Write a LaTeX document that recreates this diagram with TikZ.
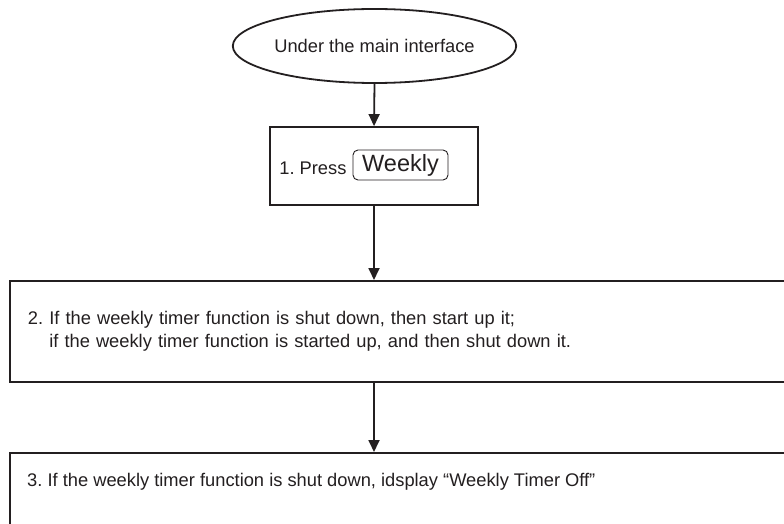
\documentclass[tikz,border=0pt]{standalone}
\usepackage{fontspec}
\setmainfont{Liberation Sans}
\usetikzlibrary{shapes.geometric,arrows.meta,calc}
\definecolor{ink}{HTML}{231F20}
\begin{document}
\begin{tikzpicture}[x=1pt,y=-1pt,
  every node/.style={text=ink,font=\fontsize{18.3}{22.5}\selectfont\frenchspacing},
  startbox/.style={ellipse,draw=ink,line width=1.8pt,minimum width=277pt,minimum height=74pt,inner sep=0pt},
  stepbox/.style={rectangle,draw=ink,line width=1.8pt,inner sep=0pt},
  keybox/.style={rectangle,rounded corners=5pt,draw=ink,line width=0.9pt,minimum width=95pt,minimum height=30pt,inner sep=0pt,font=\fontsize{23.5}{26}\selectfont},
  flow/.style={draw=ink,line width=1.8pt,-{Triangle[length=12pt,width=11pt]}}
]
\useasboundingbox (0,0) rectangle (784,524);
\clip (0,0) rectangle (784,524);
\fill[white] (0,0) rectangle (784,524);

\node[startbox] (start) at (374.5,46) {Under the main interface};

\node[stepbox,minimum width=208pt,minimum height=78pt] (b1) at (374,166) {};
\node[anchor=east] (press) at (350,168) {1. Press};
\node[keybox] (weekly) at (400.5,165) {Weekly};

\node[stepbox,anchor=north west,minimum width=800pt,minimum height=101pt,
      text width=764pt,align=left,inner xsep=18pt] (b2) at (9,280)
  {2. If the weekly timer function is shut down, then start up it;\\
   \phantom{2.}\ if the weekly timer function is started up, and then shut down it.};

\node[stepbox,anchor=north west,minimum width=800pt,minimum height=120pt] (b3) at (9,452) {};
\node[anchor=west,inner sep=0pt] (b3text) at (27,482)
  {3. If the weekly timer function is shut down, idsplay “Weekly Timer Off”};

\draw[flow] (start.south) -- (b1.north);
\draw[flow] (b1.south) -- (b1.south |- b2.north);
\draw[flow] (b1.south |- b2.south) -- (b1.south |- b3.north);
\end{tikzpicture}
\end{document}
